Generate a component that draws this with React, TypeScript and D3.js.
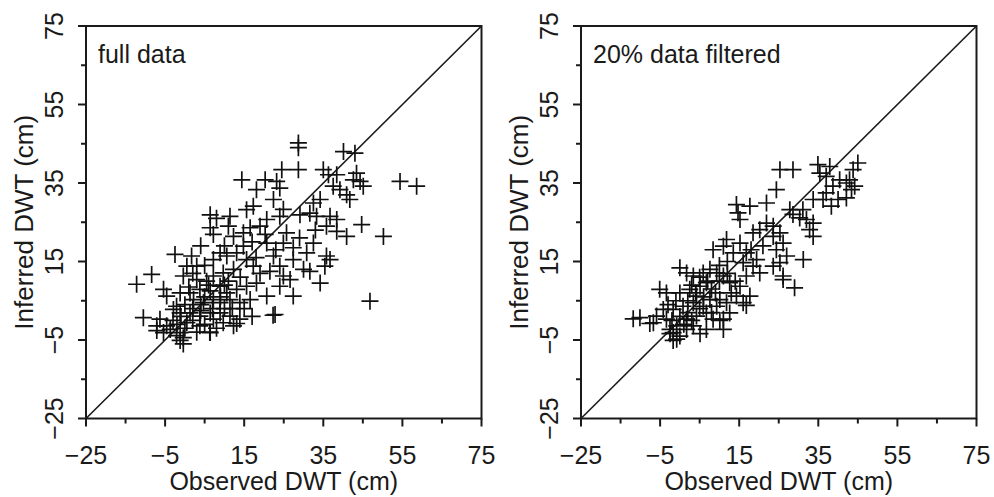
import { useMemo } from 'react';
import * as d3 from 'd3';

// values: [observed, inferred] in cm
const fullData: [number, number][] = [
  [28.7, 45.2], [28.7, 44], [40.1, 43], [43, 42.6], [24.5, 38.4], [28.7, 38.4], [35, 38.4], [36.3, 37.1],
  [38.4, 37.1], [14.4, 35.8], [20.3, 35.8], [23.2, 35.4], [24, 33.7], [18.1, 33.3], [43.4, 37.5], [44.3, 35.4],
  [45.1, 34.2], [42.6, 35.8], [37.5, 34.2], [39.2, 33.3], [41.7, 30.8], [40.9, 32], [54.4, 35.4], [58.6, 34.2],
  [22.4, 30.8], [17.3, 29.1], [24.9, 28.3], [24, 26.5], [32.5, 29.9], [34.2, 30.8], [31.6, 27.3], [29.1, 26.9],
  [33.3, 26.5], [36.7, 26.5], [38.4, 25.7], [35.8, 24], [38.4, 22.7], [40.9, 21.4], [44.7, 24.4], [50.2, 21.4],
  [32.5, 19.7], [30.8, 17.2], [35.8, 16.4], [36.7, 15.5], [35.4, 13.8], [31.6, 12.5], [34.2, 9.5], [27.4, 15.5],
  [26.6, 10.4], [27.4, 6.2], [24, 8.7], [20.7, 6.2], [22.8, 1.5], [46.8, 4.9], [25.7, 22.3], [24.9, 19.7],
  [27.4, 18.5], [22.4, 16.4], [20.7, 19.7], [24, 13.8], [21.5, 12.5], [24.9, 11.3], [6.4, 26.9], [11.4, 26.5],
  [15.6, 28.2], [16.5, 23.6], [6.4, 23.6], [7.2, 21.9], [12.3, 21.4], [14.8, 22.3], [19, 24], [20.7, 25.7],
  [20.3, 21.9], [-2.5, 16.8], [1.7, 16.4], [0.5, 13.8], [3, 13.8], [7.2, 15.5], [8.9, 17.2], [10.6, 16.4],
  [13.1, 17.2], [14.8, 18.9], [15.6, 15.5], [17.3, 13.8], [12.3, 13], [9.7, 12.1], [7.2, 11.3], [5.5, 10],
  [3, 10.4], [-0.4, 11.3], [-8.4, 11.7], [-12.2, 9.2], [-5.4, 7.9], [-4.6, 6.2], [-1.2, 7], [1.3, 7],
  [3.8, 7.9], [6.4, 7.5], [8.9, 8.7], [10.6, 7], [13.1, 7.9], [15.6, 8.7], [18.1, 9.5], [16.5, 5.3],
  [13.9, 4.5], [11.4, 5.3], [8.9, 4.5], [7.2, 5.3], [4.7, 4.5], [2.2, 5.3], [-2.1, 3.6], [-2.9, 2.8],
  [-1.2, 1.9], [1.3, 1.9], [3.8, 1.1], [6.4, 1.9], [8.9, 1.9], [11.4, 1.1], [13.9, 0.3], [12.3, -1.4],
  [9.7, -0.6], [7.2, 0.3], [6.4, -3.1], [3.8, -1.4], [0.5, -0.6], [-1.2, -3.1], [-0.4, -4.4], [-2.1, -3.9],
  [-10.5, 0.7], [-6.3, 0.3], [-7.1, -1.4], [-4.6, -1.4], [-5.4, -3.1], [-3.7, -2.3], [-7.1, -2.6], [-1.2, -5.1],
  [-0.4, -6], [6.3, -3], [13.1, -0.8], [22.3, 1.3],
  [2, 3], [4, 2.5], [5, 6], [9, 6], [10, 3], [0, 4], [-1, 1], [2, 0], [5, -1], [8, -2], [3, -3], [1, 8.5],
  [6, 9], [11, 10], [12, 3], [15, 3], [17, 1], [14, 11], [19, 12], [18, 16], [23, 18], [29, 21], [33, 23],
  [30, 13], [-3, 0], [-2, -1], [0, -2], [4, 4], [7, 3], [10, 9], [2, 12], [5, 14], [10, 19], [4, 19],
  [11, 24], [17, 20], [8, 26],
];

const filteredData: [number, number][] = [
  [25.3, 38.4], [28.6, 38.4], [24.4, 33.3], [34.9, 39.7], [37.9, 39.2], [45, 40.1], [43.8, 38.4], [35.4, 37.5],
  [37, 36.7], [40.4, 35.8], [42.1, 35], [44.2, 34.2], [42.9, 35.8], [38.7, 34.2], [40, 30.8], [38.3, 29.1],
  [42.1, 31.2], [43.4, 33.3], [37, 32.5], [36.2, 30.8], [33.7, 30.8], [14.3, 29.5], [17.7, 29.1], [21.9, 29.9],
  [14.7, 27.4], [15.2, 25.7], [27.8, 28.2], [31.1, 28.2], [28.6, 27], [32, 25.7], [33.7, 24.8], [30.3, 26.1],
  [32.8, 23.1], [33.7, 21.4], [21.9, 24.8], [23.6, 24], [25.3, 22.3], [20.2, 23.1], [18.5, 22.3], [23.6, 21.4],
  [26.1, 19.7], [24.4, 18], [27, 16.4], [31.2, 15.5], [25.3, 14.7], [23.6, 13.8], [26.1, 11.3], [29, 8.3],
  [26.1, 10.4], [11.8, 20.6], [15.2, 19.7], [8.4, 18], [11, 18.9], [13.5, 17.2], [16.8, 17.2], [19.4, 15.5],
  [16, 14.7], [18.5, 13.8], [20.2, 12.1], [16.8, 11.3], [15.2, 8.7], [17.7, 6.2], [16, 4.5], [14.3, 6.2],
  [0, 13.4], [1.7, 12.1], [3.4, 11.3], [5.9, 12.1], [7.6, 13], [9.3, 12.1], [11, 11.3], [12.6, 9.6],
  [6.7, 9.6], [5.1, 8.7], [2.5, 7.9], [-5.1, 7.9], [-3.4, 7], [0, 7], [4.2, 6.2], [7.6, 5.3],
  [10.1, 5.3], [11.8, 4.5], [9.3, 3.6], [5.9, 3.6], [3.4, 4.5], [0.8, 3.6], [-1.7, 2.8], [-4.2, 2.8],
  [-5.9, 1.1], [-10.1, 0.7], [-6.7, -0.6], [-3.4, 0.3], [-0.8, -1.4], [1.7, 0.3], [4.2, 1.1], [6.7, 1.9],
  [8.4, 0.3], [11, 0.3], [12.6, 1.9], [6.7, -2.3], [3.4, -1.4], [-1.7, -3.1], [0, -4], [-0.8, -4.8],
  [-2.5, -2.3], [1.7, -2.3], [11, -2.3], [-11.8, 0.4], [-7.6, -0.8], [-1.7, -5.1], [-2.5, -3.4], [5.1, -3.4],
  [16.8, 3.8], [10.1, 0],
  [2, 5], [4, 7], [6, 6], [8, 8], [10, 10], [12, 12], [3, 9], [5, 11], [7, 10], [9, 7], [0, 1], [2, 2],
  [-2, 0], [1, -1], [3, 0], [5, 3], [8, 2], [13, 7], [14, 10], [10, 14], [12, 15], [18, 18], [21, 19],
  [-3, 4], [-1, 5],
];

const majorTicks = [-25, -5, 15, 35, 55, 75];
const minorTicks = [-15, 5, 25, 45, 65];
const domain: [number, number] = [-25, 75];

const xTitle = 'Observed DWT (cm)';
const yTitle = 'Inferred DWT (cm)';
const panelLabels = ['full data', '20% data filtered'];

const W = 395.5;
const H = 392.5;
const FONT = '"Liberation Sans", Arial, Helvetica, sans-serif';
const INK = '#1a1a1a';

function Panel({ left, top, data, label }: { left: number; top: number; data: [number, number][]; label: string }) {
  const x = useMemo(() => d3.scaleLinear().domain(domain).range([0, W]), []);
  const y = useMemo(() => d3.scaleLinear().domain(domain).range([H, 0]), []);
  const s = 8.5; // half size of the + marker

  return (
    <g transform={`translate(${left},${top})`}>
      {/* 1:1 line */}
      <line x1={x(domain[0])} y1={y(domain[0])} x2={x(domain[1])} y2={y(domain[1])} stroke={INK} strokeWidth={1.6} />

      {data.map((d, i) => (
        <path
          key={i}
          d={`M${x(d[0]) - s},${y(d[1])}h${2 * s}M${x(d[0])},${y(d[1]) - s}v${2 * s}`}
          stroke="#111"
          strokeWidth={1.7}
          fill="none"
        />
      ))}

      <rect x={0} y={0} width={W} height={H} fill="none" stroke={INK} strokeWidth={2} />

      {/* x ticks */}
      {majorTicks.map(t => (
        <line key={'xm' + t} x1={x(t)} x2={x(t)} y1={H} y2={H + 8} stroke={INK} strokeWidth={2} />
      ))}
      {minorTicks.map(t => (
        <line key={'xn' + t} x1={x(t)} x2={x(t)} y1={H} y2={H + 5} stroke={INK} strokeWidth={2} />
      ))}
      {majorTicks.map(t => (
        <text key={'xl' + t} x={x(t)} y={H + 45} textAnchor="middle" fontSize={25} fontFamily={FONT} fill={INK}>
          {t < 0 ? '\u2212' + Math.abs(t) : t}
        </text>
      ))}

      {/* y ticks */}
      {majorTicks.map(t => (
        <line key={'ym' + t} x1={-8} x2={0} y1={y(t)} y2={y(t)} stroke={INK} strokeWidth={2} />
      ))}
      {minorTicks.map(t => (
        <line key={'yn' + t} x1={-5} x2={0} y1={y(t)} y2={y(t)} stroke={INK} strokeWidth={2} />
      ))}
      {majorTicks.map(t => (
        <text
          key={'yl' + t}
          transform={`translate(${-23},${y(t)}) rotate(-90)`}
          textAnchor="middle"
          fontSize={25}
          fontFamily={FONT}
          fill={INK}
        >
          {t < 0 ? '\u2212' + Math.abs(t) : t}
        </text>
      ))}

      <text x={W / 2} y={H + 71} textAnchor="middle" fontSize={25} fontFamily={FONT} fill={INK}>
        {xTitle}
      </text>
      <text
        transform={`translate(${-53},${H / 2}) rotate(-90)`}
        textAnchor="middle"
        fontSize={26}
        fontFamily={FONT}
        fill={INK}
      >
        {yTitle}
      </text>

      <text x={12} y={37} fontSize={25} fontFamily={FONT} fill={INK}>
        {label}
      </text>
    </g>
  );
}

export default function App() {
  return (
    <svg
      width={994}
      height={497}
      style={{ position: 'absolute', left: 0, top: 0, background: '#fff' }}
    >
      <rect width={994} height={497} fill="#fff" />
      <Panel left={86} top={26} data={fullData} label={panelLabels[0]} />
      <Panel left={581} top={26} data={filteredData} label={panelLabels[1]} />
    </svg>
  );
}
